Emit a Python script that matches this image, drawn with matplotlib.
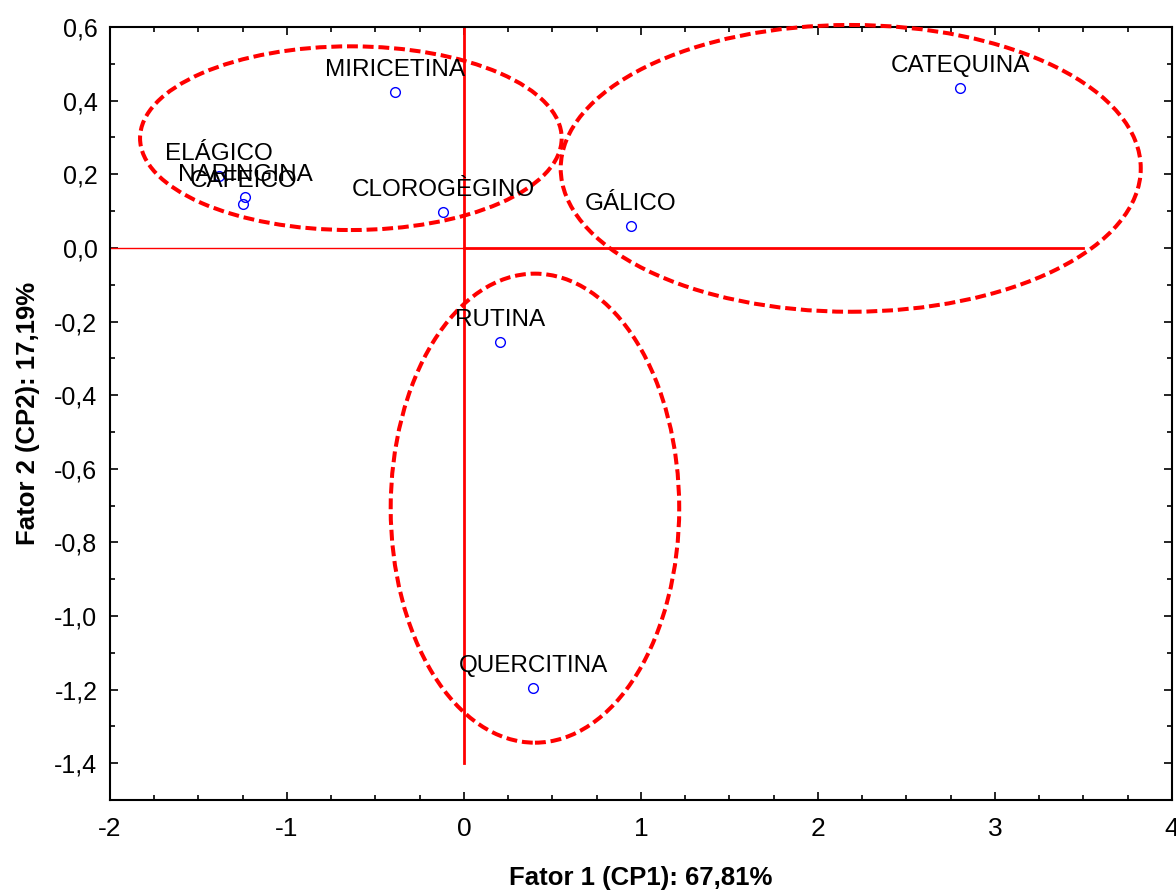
import matplotlib
matplotlib.use("Agg")
import matplotlib.pyplot as plt
from matplotlib.patches import Ellipse
from matplotlib.ticker import FixedLocator, MultipleLocator, FuncFormatter

# Scores of each phenolic compound on the first two factors
compounds = ["MIRICETINA", "ELÁGICO", "NARINGINA", "CAFEICO", "CLOROGÈGINO",
             "GÁLICO", "CATEQUINA", "RUTINA", "QUERCITINA"]
factor1 = [-0.388, -1.384, -1.237, -1.247, -0.117, 0.943, 2.802, 0.202, 0.392]
factor2 = [0.424, 0.196, 0.138, 0.120, 0.098, 0.060, 0.434, -0.256, -1.195]

# Groups outlined by dashed ellipses: (center x, center y, width, height)
group_x = [-0.639, 2.185, 0.401]
group_y = [0.298, 0.216, -0.707]
group_w = [2.382, 3.277, 1.630]
group_h = [0.499, 0.779, 1.274]

x_ticks = [-2, -1, 0, 1, 2, 3, 4]
y_ticks = [-1.4, -1.2, -1.0, -0.8, -0.6, -0.4, -0.2, 0.0, 0.2, 0.4, 0.6]

plt.rcParams["font.family"] = ["Liberation Sans", "DejaVu Sans"]

fig = plt.figure(figsize=(11.76, 8.91), dpi=100)
ax = fig.add_axes([0.0935, 0.102, 0.9031, 0.8677])

ax.set_xlim(-2, 4)
ax.set_ylim(-1.5, 0.6)

# Reference axes through the origin
ax.plot([-2, 0], [0, 0], color="red", lw=1.0, zorder=2)
ax.plot([0, 3.5], [0, 0], color="red", lw=2.0, zorder=2)
ax.plot([0, 0], [-1.4, 0.6], color="red", lw=2.0, zorder=2)

for cx, cy, w, h in zip(group_x, group_y, group_w, group_h):
    e = Ellipse((cx, cy), w, h, fill=False, edgecolor="red", lw=2.9,
                linestyle=(0, (2.7, 1.2)), clip_on=False, zorder=3)
    ax.add_patch(e)

ax.plot(factor1, factor2, linestyle="none", marker="o", markersize=7,
        markerfacecolor="none", markeredgecolor="blue", markeredgewidth=1.0,
        zorder=4)

for name, fx, fy in zip(compounds, factor1, factor2):
    ax.annotate(name, (fx, fy), xytext=(0, 16), textcoords="offset points",
                ha="center", va="center", fontsize=17.5, color="black", zorder=5)

ax.xaxis.set_major_locator(FixedLocator(x_ticks))
ax.xaxis.set_minor_locator(MultipleLocator(0.25))
ax.yaxis.set_major_locator(FixedLocator(y_ticks))
ax.yaxis.set_minor_locator(MultipleLocator(0.1))
ax.yaxis.set_major_formatter(FuncFormatter(lambda v, p: f"{v:.1f}".replace(".", ",").replace("-0,0", "0,0")))
ax.xaxis.set_major_formatter(FuncFormatter(lambda v, p: f"{v:g}"))

ax.tick_params(which="both", direction="in", top=True, right=True,
               color="black", width=1.2)
ax.tick_params(which="major", length=6)
ax.tick_params(which="minor", length=3.5)
ax.tick_params(axis="y", which="major", labelsize=18, pad=9)
ax.tick_params(axis="x", which="major", labelsize=19, pad=12)

for sp in ax.spines.values():
    sp.set_linewidth(1.5)
    sp.set_color("black")

ax.set_xlabel("Fator 1 (CP1): 67,81%", fontsize=18.5, fontweight="bold",
              labelpad=18)
ax.set_ylabel("Fator 2 (CP2): 17,19%", fontsize=18.5, fontweight="bold",
              labelpad=10)

fig.savefig("out.png", dpi=100)
